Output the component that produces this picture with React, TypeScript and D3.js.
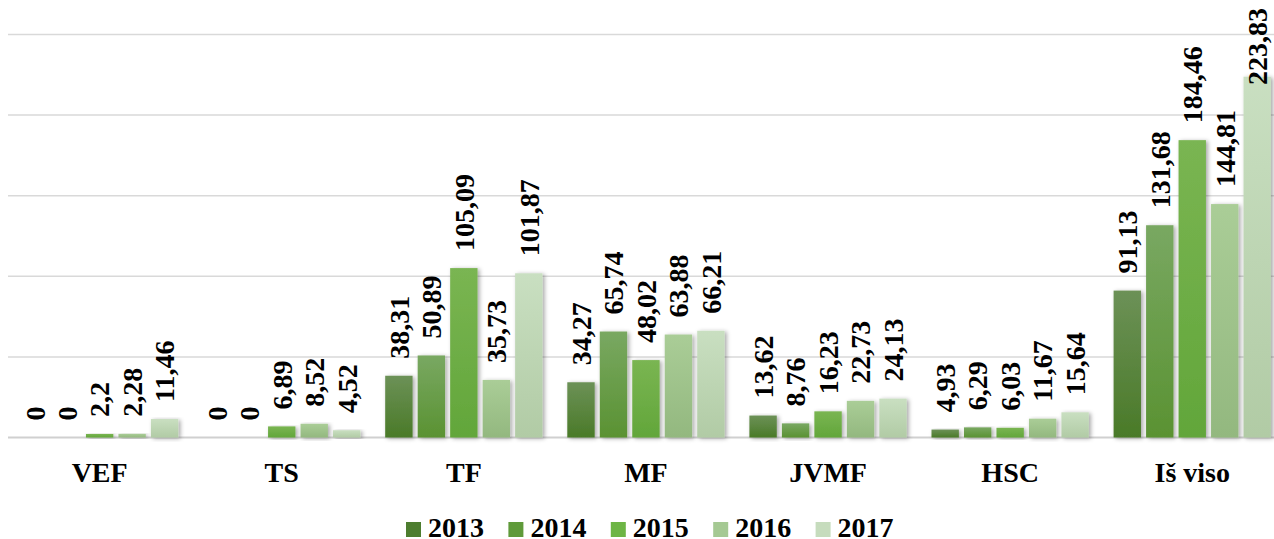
import React from "react";
import * as d3 from "d3";

const categories = ["VEF", "TS", "TF", "MF", "JVMF", "HSC", "Iš viso"];
const years = ["2013", "2014", "2015", "2016", "2017"];
const s2013 = [0, 0, 38.31, 34.27, 13.62, 4.93, 91.13];
const s2014 = [0, 0, 50.89, 65.74, 8.76, 6.29, 131.68];
const s2015 = [2.2, 6.89, 105.09, 48.02, 16.23, 6.03, 184.46];
const s2016 = [2.28, 8.52, 35.73, 63.88, 22.73, 11.67, 144.81];
const s2017 = [11.46, 4.52, 101.87, 66.21, 24.13, 15.64, 223.83];
const series = [s2013, s2014, s2015, s2016, s2017];
const yTicks = [0, 50, 100, 150, 200, 250];

const gradTop = ["#6c9157", "#79a862", "#7ab552", "#aacd97", "#c9dfc1"];
const gradBot = ["#4a7a28", "#5a9232", "#62a63a", "#93b87f", "#b1cba5"];
const legendCol = ["#4d7d2f", "#5f9a3a", "#6db545", "#a5c993", "#c6dcbd"];

const W = 1274;
const H = 539;
const FONT = '"Liberation Serif", "Times New Roman", serif';
const LABEL_SIZE = 28;

export default function App() {
  const x0 = d3.scaleBand<string>().domain(categories).range([8.6, 1283.3]).padding(0);
  const pad = 12.4;
  const x1 = d3
    .scaleBand<string>()
    .domain(years)
    .range([pad, x0.bandwidth() - pad])
    .paddingInner(0.157)
    .paddingOuter(0);
  const y = d3.scaleLinear().domain([0, 250]).range([437.5, 34.5]);
  const fmt = (v: number) => String(v).replace(".", ",");
  // approximate rendered length of a rotated label (Times bold digits 0.5em, comma 0.25em)
  const labelLen = (s: string) =>
    s.split("").reduce((a, ch) => a + (ch === "," ? 0.25 : 0.5), 0) * LABEL_SIZE;

  return (
    <svg
      width={W}
      height={H}
      style={{ position: "absolute", left: 0, top: 0, display: "block", background: "#fff" }}
    >
      <defs>
        {years.map((yr, i) => (
          <linearGradient key={yr} id={`g${i}`} x1="0" y1="0" x2="0" y2="1">
            <stop offset="0%" stopColor={gradTop[i]} />
            <stop offset="100%" stopColor={gradBot[i]} />
          </linearGradient>
        ))}
        <filter id="sh" x="-30%" y="-10%" width="160%" height="130%">
          <feDropShadow dx="2" dy="1" stdDeviation="2" floodColor="#000" floodOpacity="0.35" />
        </filter>
      </defs>
      {yTicks.map((t) => (
        <line
          key={t}
          x1={8}
          x2={W}
          y1={y(t)}
          y2={y(t)}
          stroke={t === 0 ? "#d0d0d0" : "#d9d9d9"}
          strokeWidth={t === 0 ? 2 : 1.5}
        />
      ))}
      {categories.map((c, ci) => (
        <g key={c} transform={`translate(${x0(c)},0)`}>
          {series.map((s, si) => {
            const v = s[ci];
            const bx = x1(years[si])!;
            const bw = x1.bandwidth();
            const top = y(v);
            const txt = fmt(v);
            const len = labelLen(txt);
            const ly = Math.max(top - 17, 8 + len);
            return (
              <g key={si}>
                {v > 0 && (
                  <rect
                    x={bx}
                    y={top}
                    width={bw}
                    height={y(0) - top}
                    fill={`url(#g${si})`}
                    filter="url(#sh)"
                  />
                )}
                <text
                  transform={`translate(${bx + bw / 2},${ly}) rotate(-90)`}
                  dy="0.35em"
                  fontFamily={FONT}
                  fontWeight="bold"
                  fontSize={LABEL_SIZE}
                  fill="#000"
                >
                  {txt}
                </text>
              </g>
            );
          })}
          <text
            x={x0.bandwidth() / 2}
            y={481.5}
            textAnchor="middle"
            fontFamily={FONT}
            fontWeight="bold"
            fontSize={28}
            fill="#000"
          >
            {c}
          </text>
        </g>
      ))}
      {years.map((yr, i) => {
        const lx = 406 + i * 102.4;
        return (
          <g key={yr}>
            <rect x={lx} y={522} width={15} height={15} fill={legendCol[i]} />
            <text x={lx + 22} y={537} fontFamily={FONT} fontWeight="bold" fontSize={28} fill="#000">
              {yr}
            </text>
          </g>
        );
      })}
    </svg>
  );
}
